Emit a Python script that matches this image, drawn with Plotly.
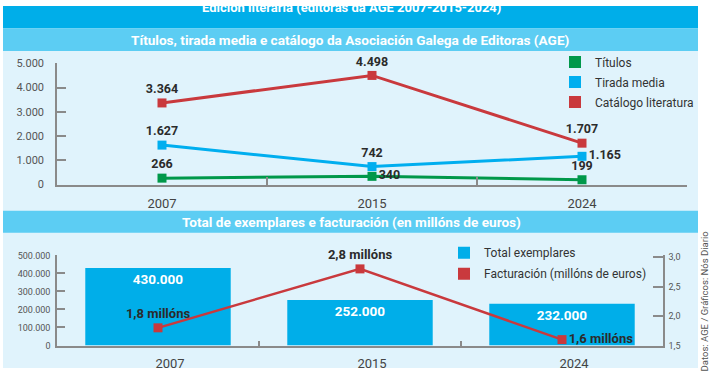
import plotly.graph_objects as go

years = ["2007", "2015", "2024"]
titulos = [266, 340, 199]
tirada = [1627, 742, 1165]
catalogo = [3364, 4498, 1707]
exemplares = [430000, 252000, 232000]
facturacion = [1.8, 2.8, 1.6]
y_ticks_top = [0, 1000, 2000, 3000, 4000, 5000]
y_ticks_left = [0, 100000, 200000, 300000, 400000, 500000]
y_ticks_right = [1.5, 2.0, 2.5, 3.0]

W, H = 710, 375
FONT = "Roboto"


def thousands(v):
    return f"{v:,}".replace(",", ".")


def millons(v):
    return f"{v:.1f}".replace(".", ",") + " millóns"


def px_x(x):
    return x / W


def px_y(y):
    return (H - y) / H


GREEN = "#00984a"
CYAN = "#00aeef"
RED = "#c9393d"
BAR = "#00aee9"
LABEL = "#2b2b2b"
AXIS = "#8a8a8a"

fig = go.Figure()

# ---- upper chart ----
series = [
    ("Títulos", titulos, GREEN, ["top center", "middle right", "top center"]),
    ("Tirada media", tirada, CYAN, ["top center", "top center", "middle right"]),
    ("Catálogo literatura", catalogo, RED, ["top center", "top center", "top center"]),
]
for name, vals, col, pos in series:
    fig.add_trace(go.Scatter(
        x=years, y=vals, mode="lines+markers+text", name=name,
        line=dict(color=col, width=3),
        marker=dict(symbol="square", size=9, color=col),
        text=[thousands(v) for v in vals], textposition=pos,
        textfont=dict(family=FONT, size=12.5, color=LABEL, weight="bold"),
        cliponaxis=False, showlegend=False, xaxis="x", yaxis="y",
    ))
for name, vals, col, pos in series:
    fig.add_trace(go.Scatter(
        x=[None], y=[None], mode="markers", name=name, legendgroup=name,
        marker=dict(symbol="square", size=12, color=col),
        xaxis="x", yaxis="y", legend="legend",
    ))

# ---- lower chart ----
fig.add_trace(go.Bar(
    x=years, y=exemplares, name="Total exemplares", legendgroup="bars",
    marker=dict(color=BAR, line=dict(width=0)),
    width=0.72, text=[thousands(v) for v in exemplares], textposition="inside",
    insidetextanchor="end", textangle=0,
    textfont=dict(family=FONT, size=13.5, color="white", weight="bold"),
    xaxis="x2", yaxis="y2", legend="legend2",
))
fig.add_trace(go.Scatter(
    x=years, y=facturacion, mode="lines+markers+text", name="Facturación (millóns de euros)",
    line=dict(color=RED, width=2.5),
    marker=dict(symbol="square", size=9, color=RED),
    text=[millons(v) for v in facturacion],
    textposition=["top center", "top center", "middle right"],
    textfont=dict(family=FONT, size=13, color=LABEL, weight="bold"),
    cliponaxis=False, showlegend=False, xaxis="x2", yaxis="y3",
))
fig.add_trace(go.Scatter(
    x=[None], y=[None], mode="markers", name="Facturación (millóns de euros)", legendgroup="fact",
    marker=dict(symbol="square", size=12, color=RED),
    xaxis="x2", yaxis="y3", legend="legend2",
))

shapes = [
    dict(type="rect", xref="paper", yref="paper", x0=px_x(3), x1=px_x(698), y0=px_y(375), y1=px_y(46.7),
         fillcolor="#e0f3fc", line=dict(width=0), layer="below"),
    dict(type="rect", xref="paper", yref="paper", x0=px_x(3), x1=px_x(698), y0=px_y(23.3), y1=px_y(0),
         fillcolor="#00aee9", line=dict(width=0), layer="below"),
    dict(type="rect", xref="paper", yref="paper", x0=px_x(3), x1=px_x(698), y0=px_y(46.7), y1=px_y(23.3),
         fillcolor="#5ccdf3", line=dict(width=0), layer="below"),
    dict(type="rect", xref="paper", yref="paper", x0=px_x(3), x1=px_x(698), y0=px_y(235), y1=px_y(212),
         fillcolor="#5ccdf3", line=dict(width=0), layer="below"),
]

annotations = [
    dict(text="Edición literaria (editoras da AGE 2007-2015-2024)", x=px_x(351), y=px_y(2),
         xref="paper", yref="paper", showarrow=False, xanchor="center", yanchor="middle",
         font=dict(family=FONT, size=13, color="white", weight="bold")),
    dict(text="Títulos, tirada media e catálogo da Asociación Galega de Editoras (AGE)", x=px_x(350), y=px_y(35),
         xref="paper", yref="paper", showarrow=False, xanchor="center", yanchor="middle",
         font=dict(family=FONT, size=13.6, color="white", weight="bold")),
    dict(text="Total de exemplares e facturación (en millóns de euros)", x=px_x(351), y=px_y(223.5),
         xref="paper", yref="paper", showarrow=False, xanchor="center", yanchor="middle",
         font=dict(family=FONT, size=13.6, color="white", weight="bold")),
    dict(text="Datos: AGE / Gráficos: Nós Diario", x=px_x(704), y=px_y(306), textangle=-90,
         xref="paper", yref="paper", showarrow=False, xanchor="center", yanchor="middle",
         font=dict(family=FONT, size=9.5, color="#555555")),
]

axis_common = dict(showline=True, linecolor=AXIS, linewidth=1.5, ticks="inside", tickcolor=AXIS,
                   tickwidth=1.5, showgrid=False, zeroline=False, fixedrange=True)

fig.update_layout(
    width=W, height=H, margin=dict(l=0, r=0, t=0, b=0),
    paper_bgcolor="white", plot_bgcolor="rgba(0,0,0,0)",
    separators=",.", font=dict(family=FONT, color="#444444"),
    shapes=shapes, annotations=annotations, bargap=0.28,
    xaxis=dict(**axis_common, type="category", range=[-0.5, 2.5], tickson="boundaries", ticklen=8,
               domain=[px_x(57), px_x(687)], anchor="y",
               tickfont=dict(size=13, color="#444444"), ticklabelstandoff=6),
    yaxis=dict(**axis_common, range=[0, 5000], tickvals=y_ticks_top, tickformat=",d", ticklen=9,
               domain=[px_y(185), px_y(59.3)], anchor="x",
               tickfont=dict(size=11, color="#555555"), ticklabelstandoff=9),
    xaxis2=dict(**axis_common, type="category", range=[-0.5, 2.5], tickson="boundaries", ticklen=5,
                domain=[px_x(57), px_x(663)], anchor="y2",
                tickfont=dict(size=13, color="#444444"), ticklabelstandoff=5, ticklabelshift=12),
    yaxis2=dict(**axis_common, range=[0, 500000], tickvals=y_ticks_left, tickformat=",d", ticklen=8,
                domain=[px_y(351.7), px_y(258.3)], anchor="x2",
                tickfont=dict(size=9, color="#555555"), ticklabelstandoff=3),
    yaxis3=dict(**axis_common, range=[1.5, 3.03], tickvals=y_ticks_right, tickformat=".1f", ticklen=10,
                overlaying="y2", side="right", anchor="x2",
                tickfont=dict(size=9, color="#555555"), ticklabelstandoff=2),
    legend=dict(x=px_x(555), y=px_y(43), xanchor="left", yanchor="top", bgcolor="rgba(0,0,0,0)",
                font=dict(family=FONT, size=12, color="#333333"), itemwidth=30, tracegroupgap=1),
    legend2=dict(x=px_x(444), y=px_y(240.5), xanchor="left", yanchor="top", bgcolor="rgba(0,0,0,0)",
                 font=dict(family=FONT, size=12, color="#333333"), itemwidth=30, tracegroupgap=2),
)

fig.write_html(
    "out.html",
    config={"displayModeBar": False},
    post_script="document.body.style.margin='0';document.body.style.overflow='hidden';",
)
